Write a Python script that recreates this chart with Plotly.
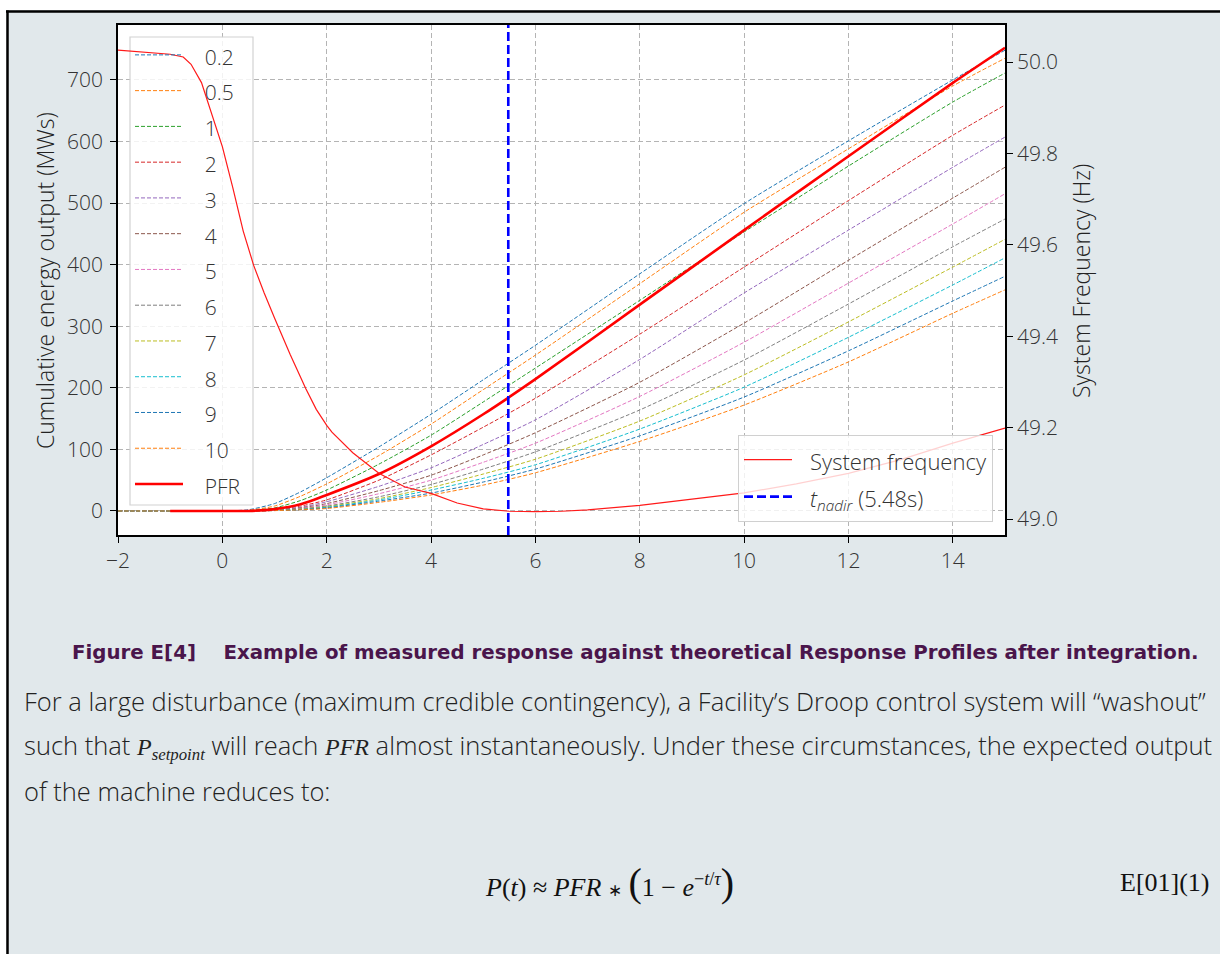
import plotly.graph_objects as go

# ---------------- data ----------------
T = [-2, 0, 0.5, 1, 1.5, 2, 3, 4, 5, 6, 8, 10, 12, 14, 15]
TAU_LABELS = ["0.2", "0.5", "1", "2", "3", "4", "5", "6", "7", "8", "9", "10"]
E_02 = [0, 0, 2, 12, 31, 54, 104, 157, 213, 269, 385, 499, 601, 700, 748]
E_05 = [0, 0, 1, 8, 24, 44, 90, 141, 197, 253, 369, 485, 588, 690, 735]
E_1 = [0, 0, 0.5, 5, 17, 34, 76, 123, 177, 232, 342, 453, 560, 664, 711]
E_2 = [0, 0, 0.3, 2.5, 8, 18, 50, 91, 136, 183, 287, 396, 504, 610, 659]
E_3 = [0, 0, 0.2, 2, 6, 15, 40, 70, 108, 148, 246, 354, 456, 558, 607]
E_4 = [0, 0, 0.2, 1.5, 5, 12, 33, 58, 91, 127, 209, 305, 407, 508, 558]
E_5 = [0, 0, 0.1, 1, 4, 10, 28, 50, 79, 110, 186, 274, 370, 466, 515]
E_6 = [0, 0, 0.1, 1, 3.5, 8, 23, 43, 68, 96, 164, 245, 336, 429, 474]
E_7 = [0, 0, 0.1, 1, 3, 7, 20, 38, 60, 84, 146, 221, 307, 396, 441]
E_8 = [0, 0, 0.1, 0.8, 2.5, 6, 18, 34, 53, 75, 133, 201, 282, 367, 411]
E_9 = [0, 0, 0, 0.7, 2, 5, 16, 29, 47, 68, 122, 185, 260, 341, 381]
E_10 = [0, 0, 0, 0.6, 2, 4, 14, 26, 42, 62, 113, 172, 242, 321, 359]
SERIES = [E_02, E_05, E_1, E_2, E_3, E_4, E_5, E_6, E_7, E_8, E_9, E_10]

T_PFR = [-1, 0, 0.5, 1, 1.5, 2, 3, 4, 5, 6, 8, 10, 12, 14, 15]
PFR = [0, 0, 0, 3, 11, 26, 60, 105, 157, 214, 335, 456, 576, 695, 752]

T_FREQ = [-2, -1.5, -1, -0.75, -0.6, -0.4, -0.2, 0, 0.2, 0.4, 0.6, 0.8, 1.0, 1.3,
          1.6, 1.8, 2.0, 2.1, 2.5, 3.0, 3.5, 4.0, 4.5, 5.0, 5.5, 6.0, 6.5, 7.0,
          8.0, 9.0, 10.0, 11.0, 12.0, 13.0, 14.0, 15.0]
FREQ = [50.026, 50.022, 50.017, 50.011, 49.995, 49.955, 49.885, 49.815, 49.725,
        49.63, 49.555, 49.495, 49.44, 49.36, 49.285, 49.24, 49.205, 49.19, 49.145,
        49.10, 49.07, 49.056, 49.035, 49.022, 49.017, 49.016, 49.017, 49.02,
        49.03, 49.044, 49.057, 49.077, 49.10, 49.13, 49.166, 49.199]

T_NADIR = 5.48

X_RANGE = [-2, 15]
Y_RANGE = [-39, 789]
Y2_RANGE = [48.965, 50.081]

COLORS = ['#1f77b4', '#ff7f0e', '#2ca02c', '#d62728', '#9467bd', '#8c564b',
          '#e377c2', '#7f7f7f', '#bcbd22', '#17becf', '#1f77b4', '#ff7f0e']

# ---------------- layout geometry ----------------
W, H = 1220, 954
L, R, TOP, B = 118, 1005, 25, 535
FONT = "Open Sans"
BG = '#e1e8eb'


def px2x(px):
    return (px - L) / (R - L)


def py2y(py):
    return (B - py) / (B - TOP)


def px2d(px):
    return X_RANGE[0] + (px - L) / (R - L) * (X_RANGE[1] - X_RANGE[0])


def py2d(py):
    return Y_RANGE[0] + (B - py) / (B - TOP) * (Y_RANGE[1] - Y_RANGE[0])


def leg(txt, size=21, lead='\u2002\u2009'):
    return '%s<span style="font-size:%spx">%s</span>' % (lead, size, txt)


fig = go.Figure()

for lab, ys, c in zip(TAU_LABELS, SERIES, COLORS):
    fig.add_trace(go.Scatter(
        x=T, y=ys, mode='lines', name=leg(lab), legend='legend',
        line=dict(color=c, width=1.0, dash='4px,2px', shape='spline', smoothing=0.6),
        hoverinfo='skip'))

fig.add_trace(go.Scatter(
    x=T_PFR, y=PFR, mode='lines', name=leg('PFR'), legend='legend',
    line=dict(color='#ff0000', width=2.6, shape='spline', smoothing=0.6),
    hoverinfo='skip'))

fig.add_trace(go.Scatter(
    x=T_FREQ, y=FREQ, mode='lines', name=leg('System frequency', 22, '\u2002'), yaxis='y2',
    legend='legend2', line=dict(color='#ff1a1a', width=1.2),
    hoverinfo='skip'))

fig.add_trace(go.Scatter(
    x=[T_NADIR, T_NADIR], y=Y2_RANGE, mode='lines',
    name=leg('<i>t</i><sub><i>nadir</i></sub> (%.2fs)' % T_NADIR, 22, '\u2002'), yaxis='y2',
    legend='legend2', line=dict(color='#0000ff', width=2.6, dash='9px,4px'),
    hoverinfo='skip'))

axis_common = dict(
    showline=True, linecolor='black', linewidth=1.6, ticks='outside', ticklen=6,
    tickwidth=1.3, tickcolor='black', zeroline=False,
    tickfont=dict(family=FONT, size=21, color='#333', weight=300))

fig.update_layout(
    width=W, height=H,
    margin=dict(l=L, r=W - R, t=TOP, b=H - B, pad=0),
    paper_bgcolor=BG, plot_bgcolor='white',
    showlegend=True,
    xaxis=dict(range=X_RANGE, tick0=-2, dtick=2, mirror=True, showgrid=True,
               gridcolor='#b4b4b4', gridwidth=1.1, griddash='5px,3px', **axis_common),
    yaxis=dict(range=Y_RANGE, tick0=0, dtick=100, mirror=True, showgrid=True,
               gridcolor='#b4b4b4', gridwidth=1.1, griddash='5px,3px',
               ticklabelstandoff=3, **axis_common),
    yaxis2=dict(range=Y2_RANGE, tick0=49.0, dtick=0.2, tickformat='.1f',
                overlaying='y', side='right', showgrid=False, **axis_common),
    legend=dict(x=px2x(130), y=py2y(32), xanchor='left', yanchor='top',
                bgcolor='rgba(0,0,0,0)', borderwidth=0,
                font=dict(family=FONT, size=25.2, color='#333', weight=300),
                itemwidth=48),
    legend2=dict(x=px2x(993), y=py2y(522), xanchor='right', yanchor='bottom',
                 bgcolor='rgba(255,255,255,0.8)', bordercolor='#d0d0d0', borderwidth=1,
                 font=dict(family=FONT, size=26.2, color='#333', weight=300),
                 itemwidth=48),
)

# legend-1 frame: drawn beneath the curves (the frequency curve passes over it)
fig.add_shape(type='rect', xref='x', yref='y', layer='between',
              x0=px2d(130), x1=px2d(253), y0=py2d(505), y1=py2d(37),
              fillcolor='rgba(255,255,255,0.82)', line=dict(color='#d2d2d2', width=1.2))

# page frame (white outside, black border line)
fig.add_shape(type='rect', xref='paper', yref='paper', x0=px2x(-5), x1=px2x(W + 5),
              y0=py2y(-5), y1=py2y(10), fillcolor='white', line_width=0)
fig.add_shape(type='rect', xref='paper', yref='paper', x0=px2x(-5), x1=px2x(6),
              y0=py2y(-5), y1=py2y(H + 5), fillcolor='white', line_width=0)
fig.add_shape(type='line', xref='paper', yref='paper', x0=px2x(6), x1=px2x(W + 5),
              y0=py2y(11.5), y1=py2y(11.5), line=dict(color='black', width=2.5))
fig.add_shape(type='line', xref='paper', yref='paper', x0=px2x(7.5), x1=px2x(7.5),
              y0=py2y(10.5), y1=py2y(H + 5), line=dict(color='black', width=2.5))

# axis titles
fig.add_annotation(text='Cumulative energy output (MWs)', xref='paper', yref='paper',
                   x=px2x(45), y=py2y(281), textangle=-90, showarrow=False,
                   xanchor='center', yanchor='middle',
                   font=dict(family=FONT, size=23, color='#222', weight=300))
fig.add_annotation(text='System Frequency (Hz)', xref='paper', yref='paper',
                   x=px2x(1081), y=py2y(281), textangle=-90, showarrow=False,
                   xanchor='center', yanchor='middle',
                   font=dict(family=FONT, size=23, color='#222', weight=300))

# caption and body text
fig.add_annotation(
    text='Figure E[4]\u00a0\u00a0\u00a0\u00a0Example of measured response against theoretical Response Profiles after integration.',
    xref='paper', yref='paper', x=px2x(70), y=py2y(652), xanchor='left', yanchor='middle',
    showarrow=False, font=dict(family='DejaVu Sans', size=19.8, color='#4a154b', weight='bold'))

BODY = dict(family=FONT, size=25.5, color='#222', weight=300)
SER = 'font-family:Liberation Serif;font-size:24px'
fig.add_annotation(
    text='For a large disturbance (maximum credible contingency), a Facility\u2019s Droop control system will \u201cwashout\u201d',
    xref='paper', yref='paper', x=px2x(22), y=py2y(701), xanchor='left', yanchor='middle',
    showarrow=False, font=BODY)
fig.add_annotation(
    text=('such that <span style="%s"><i>P</i><sub><i>setpoint</i></sub></span> will reach '
          '<span style="%s"><i>PFR</i></span> almost instantaneously. Under these circumstances, the expected output') % (SER, SER),
    xref='paper', yref='paper', x=px2x(22), y=py2y(746), xanchor='left', yanchor='middle',
    showarrow=False, font=BODY)
fig.add_annotation(
    text='of the machine reduces to:',
    xref='paper', yref='paper', x=px2x(22), y=py2y(791), xanchor='left', yanchor='middle',
    showarrow=False, font=BODY)

fig.add_annotation(
    text=('<i>P</i>(<i>t</i>) \u2248 <i>PFR</i> <span style="font-size:17px">\u2217</span> '
          '<span style="font-size:40px">(</span>1 \u2212 '
          '<i>e</i><sup>\u2212<i>t</i>/<i>\u03c4</i></sup><span style="font-size:40px">)</span>'),
    xref='paper', yref='paper', x=px2x(483), y=py2y(882), xanchor='left', yanchor='middle',
    showarrow=False, font=dict(family='Liberation Serif', size=26, color='#111'))
fig.add_annotation(
    text='E[01](1)', xref='paper', yref='paper', x=px2x(1212), y=py2y(882),
    xanchor='right', yanchor='middle', showarrow=False,
    font=dict(family='Liberation Serif', size=26, color='#111'))

fig.write_html('out.html')
